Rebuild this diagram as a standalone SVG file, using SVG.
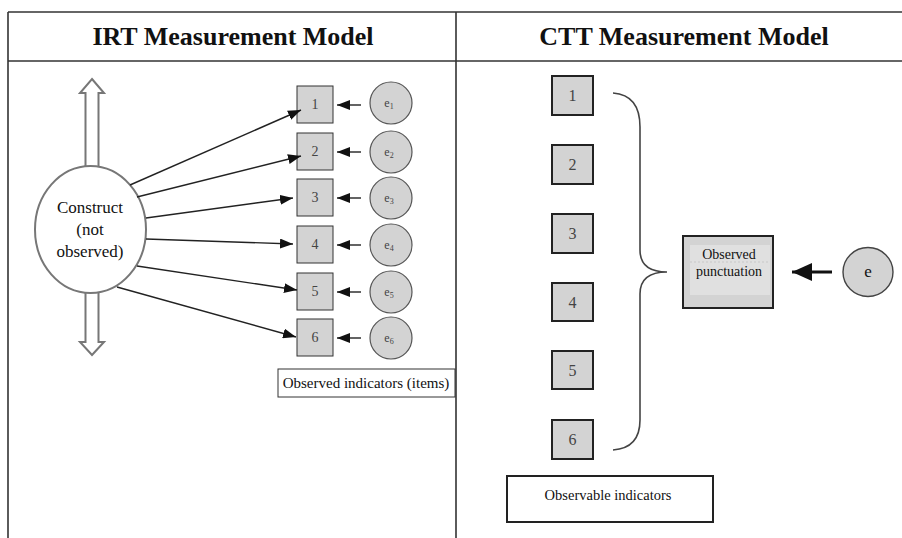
<svg xmlns="http://www.w3.org/2000/svg" width="902" height="538" viewBox="0 0 902 538">
  <style>
    .frame { stroke: #333; stroke-width: 1.6; fill: none; }
    .title { font-family: "Liberation Serif", "Times New Roman", serif; font-weight: bold; font-size: 26px; fill: #111; text-anchor: middle; }
    .lbl { font-family: "Liberation Serif", "Times New Roman", serif; fill: #111; text-anchor: middle; }
    .num { font-family: "Liberation Serif", "Times New Roman", serif; fill: #444; text-anchor: middle; }
    .item { fill: #d3d3d3; stroke: #333; stroke-width: 1; }
    .citem { fill: #d3d3d3; stroke: #222; stroke-width: 2; }
    .err { fill: #d3d3d3; stroke: #555; stroke-width: 1.2; }
    .hollow { fill: #fff; stroke: #777; stroke-width: 2; }
    .link { stroke: #222; stroke-width: 1.4; fill: none; }
  </style>
  <defs>
    <marker id="head" viewBox="0 0 13 10" refX="13" refY="5" markerWidth="13" markerHeight="10" markerUnits="userSpaceOnUse" orient="auto">
      <path d="M0,0 L13,5 L0,10 z" fill="#111"/>
    </marker>
    <marker id="bighead" viewBox="0 0 20 18" refX="20" refY="9" markerWidth="20" markerHeight="18" markerUnits="userSpaceOnUse" orient="auto">
      <path d="M0,0 L20,9 L0,18 z" fill="#111"/>
    </marker>
  </defs>

  <rect width="902" height="538" fill="#fff"/>

  <!-- table frame -->
  <g id="frame">
    <line class="frame" x1="8" y1="12" x2="902" y2="12"/>
    <line class="frame" x1="8" y1="61" x2="902" y2="61"/>
    <line class="frame" x1="8" y1="12" x2="8" y2="538"/>
    <line class="frame" x1="456" y1="12" x2="456" y2="538"/>
    <text class="title" x="233" y="45">IRT Measurement Model</text>
    <text class="title" x="684" y="45">CTT Measurement Model</text>
  </g>

  <!-- IRT: latent construct with hollow range arrows -->
  <g id="construct">
    <polygon class="hollow" points="92,79 104,93 98.5,93 98.5,170 85.5,170 85.5,93 80,93"/>
    <polygon class="hollow" points="92,355 104,342 98.5,342 98.5,288 85.5,288 85.5,342 80,342"/>
    <ellipse cx="90.5" cy="229.5" rx="55.5" ry="63.5" fill="#fff" stroke="#777" stroke-width="2"/>
    <text class="lbl" font-size="17" x="90" y="213">Construct</text>
    <text class="lbl" font-size="17" x="90" y="235">(not</text>
    <text class="lbl" font-size="17" x="90" y="257">observed)</text>
  </g>

  <!-- IRT items -->
  <g id="irt-item-1"><rect class="item" x="297" y="86" width="36" height="37"/><text class="num" font-size="14" x="315" y="109">1</text></g>
  <g id="irt-item-2"><rect class="item" x="297" y="133" width="36" height="37"/><text class="num" font-size="14" x="315" y="156">2</text></g>
  <g id="irt-item-3"><rect class="item" x="297" y="179" width="36" height="37"/><text class="num" font-size="14" x="315" y="202">3</text></g>
  <g id="irt-item-4"><rect class="item" x="297" y="226" width="36" height="37"/><text class="num" font-size="14" x="315" y="249">4</text></g>
  <g id="irt-item-5"><rect class="item" x="297" y="273" width="36" height="37"/><text class="num" font-size="14" x="315" y="296">5</text></g>
  <g id="irt-item-6"><rect class="item" x="297" y="319" width="36" height="37"/><text class="num" font-size="14" x="315" y="342">6</text></g>

  <!-- IRT error terms -->
  <g id="irt-err-1"><circle class="err" cx="391" cy="103" r="21"/><text class="num" font-size="12" x="389" y="107">e<tspan font-size="8" dy="2">1</tspan></text></g>
  <g id="irt-err-2"><circle class="err" cx="391" cy="152" r="21"/><text class="num" font-size="12" x="389" y="156">e<tspan font-size="8" dy="2">2</tspan></text></g>
  <g id="irt-err-3"><circle class="err" cx="391" cy="198" r="21"/><text class="num" font-size="12" x="389" y="202">e<tspan font-size="8" dy="2">3</tspan></text></g>
  <g id="irt-err-4"><circle class="err" cx="391" cy="245" r="21"/><text class="num" font-size="12" x="389" y="249">e<tspan font-size="8" dy="2">4</tspan></text></g>
  <g id="irt-err-5"><circle class="err" cx="391" cy="292" r="21"/><text class="num" font-size="12" x="389" y="296">e<tspan font-size="8" dy="2">5</tspan></text></g>
  <g id="irt-err-6"><circle class="err" cx="391" cy="338" r="21"/><text class="num" font-size="12" x="389" y="342">e<tspan font-size="8" dy="2">6</tspan></text></g>

  <g id="irt-caption">
    <rect x="278" y="369" width="177" height="28" fill="#fff" stroke="#333" stroke-width="1"/>
    <text class="lbl" font-size="15" x="366" y="388">Observed indicators (items)</text>
  </g>

  <!-- IRT connectors -->
  <g id="irt-links">
    <line class="link" x1="130" y1="185" x2="301" y2="110" marker-end="url(#head)"/>
    <line class="link" x1="137" y1="197" x2="301" y2="156" marker-end="url(#head)"/>
    <line class="link" x1="146" y1="218" x2="293" y2="198" marker-end="url(#head)"/>
    <line class="link" x1="146" y1="239" x2="293" y2="244" marker-end="url(#head)"/>
    <line class="link" x1="137" y1="266" x2="297" y2="290" marker-end="url(#head)"/>
    <line class="link" x1="117" y1="287" x2="296" y2="337" marker-end="url(#head)"/>
    <line class="link" x1="361" y1="105" x2="337" y2="105" marker-end="url(#head)"/>
    <line class="link" x1="361" y1="152" x2="337" y2="152" marker-end="url(#head)"/>
    <line class="link" x1="361" y1="198" x2="337" y2="198" marker-end="url(#head)"/>
    <line class="link" x1="361" y1="245" x2="337" y2="245" marker-end="url(#head)"/>
    <line class="link" x1="361" y1="292" x2="337" y2="292" marker-end="url(#head)"/>
    <line class="link" x1="361" y1="338" x2="337" y2="338" marker-end="url(#head)"/>
  </g>

  <!-- CTT items -->
  <g id="ctt-item-1"><rect class="citem" x="552" y="76" width="41" height="39"/><text class="num" font-size="16" x="572.5" y="101">1</text></g>
  <g id="ctt-item-2"><rect class="citem" x="552" y="145" width="41" height="39"/><text class="num" font-size="16" x="572.5" y="170">2</text></g>
  <g id="ctt-item-3"><rect class="citem" x="552" y="214" width="41" height="39"/><text class="num" font-size="16" x="572.5" y="239">3</text></g>
  <g id="ctt-item-4"><rect class="citem" x="552" y="283" width="41" height="38"/><text class="num" font-size="16" x="572.5" y="308">4</text></g>
  <g id="ctt-item-5"><rect class="citem" x="552" y="351" width="41" height="38"/><text class="num" font-size="16" x="572.5" y="376">5</text></g>
  <g id="ctt-item-6"><rect class="citem" x="552" y="420" width="41" height="39"/><text class="num" font-size="16" x="572.5" y="445">6</text></g>

  <!-- CTT brace grouping the items -->
  <g id="brace">
    <path d="M613,93 Q640,95 640,127 L640,250 Q640,272 667,272 Q640,272 640,294 L640,420 Q640,448 613,450" fill="none" stroke="#444" stroke-width="1.6"/>
  </g>

  <g id="observed-score">
    <rect x="683" y="236" width="90" height="72" fill="#d3d3d3" stroke="#222" stroke-width="2"/>
    <rect x="690" y="245" width="80" height="50" fill="#e0e0e0"/>
    <line x1="690" y1="262" x2="770" y2="262" stroke="#bbb" stroke-width="0.6" stroke-dasharray="2,2"/>
    <text class="lbl" font-size="14" x="729" y="259">Observed</text>
    <text class="lbl" font-size="14" x="729" y="276">punctuation</text>
  </g>

  <g id="ctt-err">
    <ellipse cx="868" cy="272" rx="25" ry="24.5" fill="#d3d3d3" stroke="#444" stroke-width="1.4"/>
    <text class="lbl" font-size="17" x="868" y="277">e</text>
  </g>

  <g id="ctt-links">
    <line x1="832" y1="272" x2="792" y2="272" stroke="#111" stroke-width="3" marker-end="url(#bighead)"/>
  </g>

  <g id="ctt-caption">
    <rect x="507" y="476" width="206" height="46" fill="#fff" stroke="#222" stroke-width="2"/>
    <text class="lbl" font-size="14.5" x="608" y="500">Observable indicators</text>
  </g>
</svg>
